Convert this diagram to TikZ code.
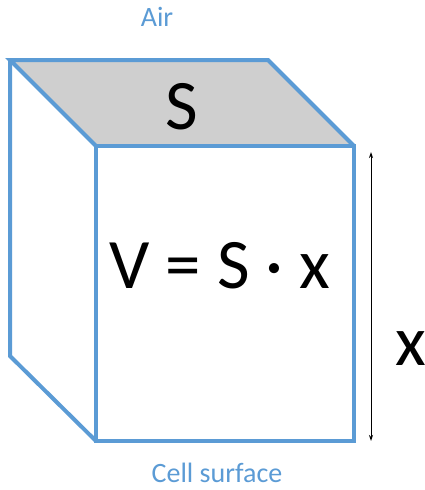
\documentclass[tikz,border=0pt]{standalone}
\usepackage{fontspec}
\setmainfont{Carlito}
\usetikzlibrary{arrows.meta}
\definecolor{cellblue}{HTML}{5B9BD5}
\definecolor{topgray}{HTML}{CFCFCF}
\tikzset{
  edge/.style={draw=cellblue, line width=4pt, line join=miter},
  lbl/.style={text=cellblue, font=\fontsize{28}{32}\selectfont, inner sep=0pt},
  big/.style={text=black, font=\fontsize{71}{80}\selectfont, inner sep=0pt},
  dim/.style={draw=black, line width=1pt, {Stealth[length=6pt,width=4pt]}-{Stealth[length=6pt,width=4pt]}}
}
\begin{document}
\begin{tikzpicture}[x=1pt,y=-1pt]
\useasboundingbox (0,0) rectangle (425,490);
\coordinate (bl) at (10,60);
\coordinate (br) at (268,60);
\coordinate (ftl) at (96,146);
\coordinate (ftr) at (354,146);
\coordinate (fbl) at (96,441);
\coordinate (fbr) at (354,441);
\coordinate (lbb) at (10,356);
\fill[white] (bl) -- (ftl) -- (fbl) -- (lbb) -- cycle;
\fill[topgray] (bl) -- (br) -- (ftr) -- (ftl) -- cycle;
\draw[edge] (ftl) rectangle (fbr);
\draw[edge] (ftl) -- (bl) -- (br) -- (ftr);
\draw[edge] (bl) -- (lbb) -- (fbl);
\node[big] (s) at (182,106.5) {S};
\node[big] (v) at (220,266) {V = S · x};
\coordinate (at) at (371,152);
\coordinate (ab) at (371,441);
\draw[dim] (at) -- (ab);
\node[big] (x) at (411,349) {x};
\node[lbl] (air) at (157,16.5) {Air};
\node[lbl] (cell) at (217,473) {Cell surface};
\end{tikzpicture}
\end{document}
